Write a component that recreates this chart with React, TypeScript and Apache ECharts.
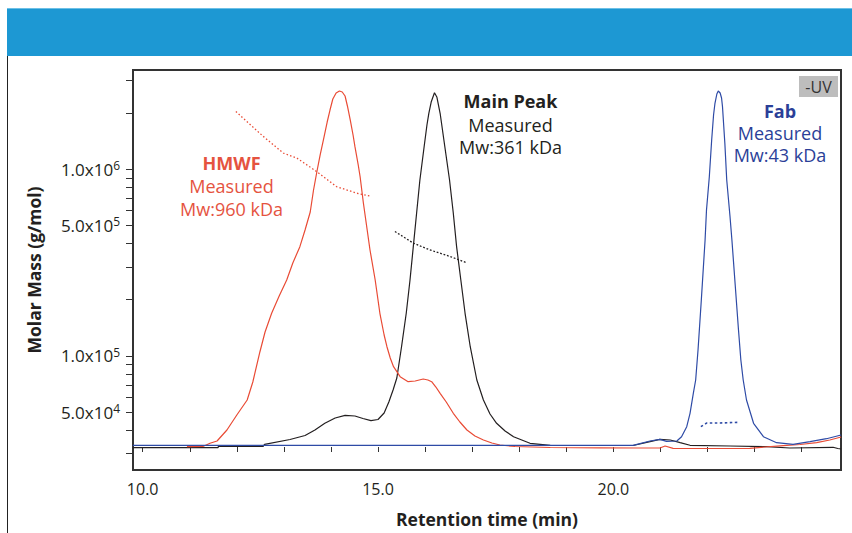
import React, { useEffect, useRef } from "react";
import * as echarts from "echarts";

// ---- UV traces (retention time in min, relative UV response %) ----
const hmwfTime = [10.94, 11.28, 11.43, 11.58, 11.79, 12.0, 12.22, 12.34, 12.49, 12.6, 12.74, 12.9, 13.06, 13.19, 13.34, 13.45, 13.56, 13.63, 13.7, 13.77, 13.84, 13.92, 13.98, 14.04, 14.11, 14.18, 14.24, 14.3, 14.35, 14.41, 14.47, 14.51, 14.58, 14.62, 14.69, 14.77, 14.83, 14.94, 15.04, 15.13, 15.19, 15.26, 15.33, 15.47, 15.64, 15.79, 15.96, 16.06, 16.14, 16.23, 16.32, 16.45, 16.6, 16.74, 16.89, 17.06, 17.24, 17.42, 17.59, 17.91, 18.66, 19.72, 20.57, 20.99, 21.1, 21.27, 21.84, 22.9, 23.22, 23.61, 23.97, 24.32, 24.6, 24.84];
const hmwfUV = [0.08, 0.14, 1.04, 1.69, 4.78, 8.99, 13.2, 18.26, 26.69, 32.3, 37.56, 42.42, 46.91, 51.69, 56.27, 60.96, 66.01, 72.19, 77.25, 82.02, 86.24, 91.29, 94.66, 97.75, 99.44, 100, 99.72, 98.6, 95.79, 91.86, 87.64, 84.35, 79.21, 75.92, 68.46, 60.96, 55.34, 46.91, 37.56, 31.46, 28.17, 25.0, 22.56, 19.75, 18.34, 18.54, 19.1, 18.82, 18.34, 16.85, 15.08, 12.64, 9.47, 7.02, 4.78, 3.09, 1.97, 1.12, 0.56, 0.14, -0.14, -0.22, -0.28, -0.28, 0.28, -0.37, -0.42, -0.37, 0, 0.37, 0.7, 1.21, 1.97, 2.81];

const mainTime = [9.79, 11.6, 11.61, 12.56, 12.59, 13.13, 13.45, 13.66, 13.87, 14.09, 14.3, 14.51, 14.68, 14.85, 15.0, 15.13, 15.23, 15.32, 15.4, 15.5, 15.6, 15.68, 15.75, 15.82, 15.89, 15.98, 16.04, 16.08, 16.13, 16.2, 16.25, 16.32, 16.42, 16.52, 16.6, 16.67, 16.76, 16.85, 16.96, 17.1, 17.24, 17.38, 17.52, 17.7, 17.88, 18.23, 18.66, 19.72, 20.42, 20.78, 20.99, 21.21, 21.42, 21.63, 22.48, 23.26, 23.75, 24.67, 24.77, 24.84];
const mainUV = [-0.2, -0.2, 0.2, 0.2, 0.76, 2.11, 3.23, 4.78, 6.66, 8.15, 8.9, 8.71, 8.01, 7.39, 7.72, 9.55, 12.64, 16.01, 19.38, 28.17, 37.56, 46.91, 56.27, 65.65, 75.0, 84.35, 90.45, 93.74, 96.91, 99.52, 98.32, 93.74, 84.35, 75.0, 65.65, 56.27, 46.91, 37.56, 28.17, 18.82, 13.2, 9.27, 6.66, 4.49, 2.89, 1.04, 0.48, 0.42, 0.42, 1.49, 2.16, 1.97, 1.21, 0.48, 0.28, 0.08, -0.28, -0.08, -0.42, -0.56];

const fabTime = [9.79, 20.42, 20.78, 20.99, 21.13, 21.35, 21.45, 21.56, 21.63, 21.7, 21.75, 21.8, 21.87, 21.95, 21.98, 22.04, 22.09, 22.13, 22.16, 22.2, 22.23, 22.27, 22.3, 22.32, 22.37, 22.41, 22.48, 22.52, 22.59, 22.66, 22.71, 22.76, 22.83, 22.98, 23.19, 23.47, 23.82, 24.18, 24.53, 24.84];
const fabUV = [0.48, 0.48, 1.69, 2.16, 1.6, 1.69, 2.89, 5.7, 9.47, 15.08, 18.82, 27.25, 41.29, 58.15, 66.57, 75.93, 86.24, 93.26, 96.55, 99.16, 100, 99.44, 98.03, 95.59, 85.31, 75.0, 64.69, 58.15, 45.51, 32.87, 24.44, 18.82, 13.2, 6.66, 2.89, 1.21, 0.76, 1.49, 2.33, 3.37];

// ---- Measured molar mass (g/mol) ----
const hmwfMassTime = [11.98, 12.56, 12.99, 13.27, 13.7, 14.12, 14.55, 14.83];
const hmwfMass = [2.04e6, 1.5e6, 1.22e6, 1.15e6, 9.7e5, 8.07e5, 7.44e5, 7.19e5];
const mainMassTime = [15.36, 15.75, 16.1, 16.53, 16.88];
const mainMass = [4.64e5, 4.02e5, 3.7e5, 3.41e5, 3.16e5];
const fabMassTime = [21.86, 21.98, 22.34, 22.66];
const fabMass = [4.18e4, 4.37e4, 4.38e4, 4.41e4];

// ---- Axes ----
const timeTicks = [10, 11, 12, 13, 14, 15, 16, 17, 18, 19, 20, 21, 22, 23, 24];
const timeLabels = [10, 15, 20];
const massTicks = [3e4, 4e4, 5e4, 6e4, 7e4, 8e4, 9e4, 1e5, 2e5, 3e5, 4e5, 5e5, 6e5, 7e5, 8e5, 9e5, 1e6, 2e6, 3e6];
const massLabels = [5e4, 1e5, 5e5, 1e6];
const massRange = [2.45e4, 3.4e6];
const timeRange = [9.794, 24.838];
const uvRange = [-6.46, 105.9];

const RED = "#E94B35";
const RED_TXT = "#E5533F";
const BLUE = "#2E4BA6";
const BLUE_TXT = "#2B3F98";
const BLACK = "#231F20";
const FONT = "'Open Sans'";

const zip = (a: number[], b: number[]) => a.map((x, i) => [x, b[i]]);
const zipLog = (a: number[], b: number[]) => a.map((x, i) => [x, Math.log10(b[i])]);

export default function App() {
  const ref = useRef<HTMLDivElement>(null);
  useEffect(() => {
    const chart = echarts.init(ref.current!, null, { renderer: "svg" });
    const txt = (x: number, y: number, text: string, color: string, bold = false) => ({
      type: "text",
      x,
      y,
      z: 10,
      style: {
        text,
        fill: color,
        font: `${bold ? "bold " : ""}18px ${FONT}`,
        textAlign: "center",
        textVerticalAlign: "middle",
      },
    });
    chart.setOption({
      animation: false,
      backgroundColor: "#ffffff",
      textStyle: { fontFamily: "Open Sans" },
      grid: { left: 133, top: 70, width: 708, height: 400, show: true, borderColor: "#333", borderWidth: 2, backgroundColor: "transparent" },
      xAxis: {
        type: "value",
        min: timeRange[0],
        max: timeRange[1],
        name: "Retention time (min)",
        nameLocation: "middle",
        nameGap: 40,
        nameTextStyle: { fontSize: 17.5, fontWeight: "bold", color: BLACK, fontFamily: "Open Sans" },
        axisLine: { show: false },
        splitLine: { show: false },
        axisTick: { show: true, length: 5, lineStyle: { color: "#333", width: 1 }, customValues: timeTicks },
        axisLabel: {
          customValues: timeLabels,
          formatter: (v: number) => v.toFixed(1),
          fontSize: 16,
          color: BLACK,
          margin: 11,
          fontFamily: "Open Sans",
        },
      },
      yAxis: [
        {
          type: "value",
          min: Math.log10(massRange[0]),
          max: Math.log10(massRange[1]),
          name: "Molar Mass (g/mol)",
          nameLocation: "middle",
          nameGap: 90,
          nameTextStyle: { fontSize: 17.5, fontWeight: "bold", color: BLACK, fontFamily: "Open Sans" },
          axisLine: { show: false },
          splitLine: { show: false },
          axisTick: { show: true, length: 7, lineStyle: { color: "#333", width: 1 }, customValues: massTicks.map(Math.log10) },
          axisLabel: {
            customValues: massLabels.map(Math.log10),
            margin: 13,
            formatter: (v: number) => {
              const e = Math.floor(v + 1e-6);
              const m = Math.pow(10, v) / Math.pow(10, e);
              return `{b|${m.toFixed(1)}x10}{s|${e}}`;
            },
            rich: {
              b: { fontSize: 17, color: BLACK, fontFamily: "Open Sans", lineHeight: 19 },
              s: { fontSize: 12, color: BLACK, fontFamily: "Open Sans", lineHeight: 10, verticalAlign: "top" },
            },
          },
        },
        {
          type: "value",
          min: uvRange[0],
          max: uvRange[1],
          show: false,
          splitLine: { show: false },
        },
      ],
      series: [
        { name: "Main Peak UV", type: "line", yAxisIndex: 1, data: zip(mainTime, mainUV), showSymbol: false, lineStyle: { color: BLACK, width: 1.2 }, z: 2 },
        { name: "HMWF UV", type: "line", yAxisIndex: 1, data: zip(hmwfTime, hmwfUV), showSymbol: false, lineStyle: { color: RED, width: 1.2 }, z: 3 },
        { name: "Fab UV", type: "line", yAxisIndex: 1, data: zip(fabTime, fabUV), showSymbol: false, lineStyle: { color: BLUE, width: 1.2 }, z: 4 },
        { name: "HMWF Mw", type: "line", yAxisIndex: 0, data: zipLog(hmwfMassTime, hmwfMass), showSymbol: false, lineStyle: { color: RED, width: 1.3, type: [1.5, 2.2] }, z: 5 },
        { name: "Main Peak Mw", type: "line", yAxisIndex: 0, data: zipLog(mainMassTime, mainMass), showSymbol: false, lineStyle: { color: BLACK, width: 1.3, type: [1.8, 1.8] }, z: 5 },
        { name: "Fab Mw", type: "line", yAxisIndex: 0, data: zipLog(fabMassTime, fabMass), showSymbol: false, lineStyle: { color: BLUE, width: 1.6, type: [2.5, 2.5] }, z: 5 },
      ],
      graphic: [
        { type: "rect", shape: { x: 7, y: 8, width: 845, height: 48 }, style: { fill: "#1D98D3" }, z: 1 },
        { type: "line", shape: { x1: 7, y1: 8.5, x2: 852, y2: 8.5 }, style: { stroke: "#6CC0E6", lineWidth: 1 }, z: 2 },
        { type: "line", shape: { x1: 7.5, y1: 56, x2: 7.5, y2: 533 }, style: { stroke: "#222", lineWidth: 1 }, z: 2 },
        { type: "rect", shape: { x: 799, y: 76, width: 39, height: 21 }, style: { fill: "#BDBDBD" }, z: 9 },
        { type: "text", x: 818.5, y: 87, z: 10, style: { text: "-UV", fill: "#333", font: `16px ${FONT}`, textAlign: "center", textVerticalAlign: "middle" } },
        txt(231.5, 163, "HMWF", RED_TXT, true),
        txt(231.5, 186, "Measured", RED_TXT),
        txt(231.5, 208.5, "Mw:960 kDa", RED_TXT),
        txt(510.5, 101, "Main Peak", BLACK, true),
        txt(510.5, 124.5, "Measured", BLACK),
        txt(510.5, 146.5, "Mw:361 kDa", BLACK),
        txt(780, 111, "Fab", BLUE_TXT, true),
        txt(780, 133, "Measured", BLUE_TXT),
        txt(780, 155, "Mw:43 kDa", BLUE_TXT),
      ],
    });
    return () => chart.dispose();
  }, []);
  return (
    <div
      ref={ref}
      style={{ position: "fixed", left: 0, top: 0, width: 852, height: 533, background: "#fff" }}
    />
  );
}
